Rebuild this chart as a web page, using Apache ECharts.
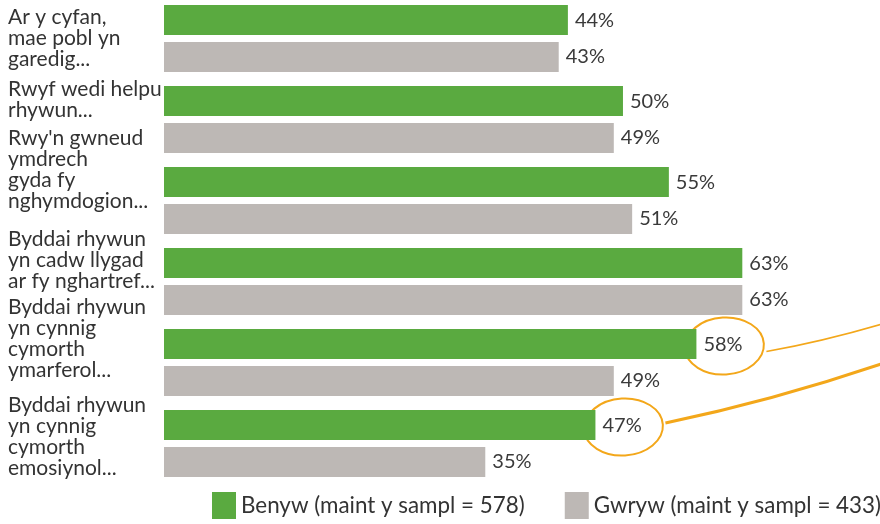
<!DOCTYPE html>
<html>
<head>
<meta charset="utf-8">
<script src="https://cdn.jsdelivr.net/npm/echarts@6/dist/echarts.min.js"></script>
<style>
  html, body { margin: 0; padding: 0; background: #fff; }
  #chart { width: 880px; height: 524px; }
</style>
</head>
<body>
<div id="chart"></div>
<script>
var categories = [
  'Ar y cyfan,\nmae pobl yn\ngaredig...',
  'Rwyf wedi helpu\nrhywun...',
  "Rwy'n gwneud\nymdrech\ngyda fy\nnghymdogion...",
  'Byddai rhywun\nyn cadw llygad\nar fy nghartref...',
  'Byddai rhywun\nyn cynnig\ncymorth\nymarferol...',
  'Byddai rhywun\nyn cynnig\ncymorth\nemosiynol...'
];
var benyw = [44, 50, 55, 63, 58, 47];
var gwryw = [43, 49, 51, 63, 49, 35];
var seriesNames = ['Benyw (maint y sampl = 578)', 'Gwryw (maint y sampl = 433)'];
// bars that get a hand-drawn circle (index into benyw)
var circled = [4, 5];

// labels in the source are not centred on their bar pair; lift each one a bit
var labelLift = [0, 20, 31, 21, 24, 7];

var GREEN = '#5aaa40';
var GREY = '#bdb8b5';
var ORANGE = '#f3a71a';
var FONT = 'Lato';

var chartDom = document.getElementById('chart');
var myChart = echarts.init(chartDom);

// an invisible spacer line under a label pushes the centred block upwards
var spacerRich = {};
labelLift.forEach(function (d, i) {
  spacerRich['sp' + i] = { height: d * 2, lineHeight: d * 2, fontSize: 1 };
});

var option = {
  animation: false,
  textStyle: { fontFamily: FONT },
  grid: { left: 164, right: 0, top: -2, height: 486, containLabel: false, outerBoundsMode: 'none' },
  xAxis: {
    type: 'value', min: 0, max: 78, show: false
  },
  yAxis: {
    type: 'category',
    inverse: true,
    data: categories,
    axisLine: { show: false },
    axisTick: { show: false },
    axisLabel: {
      interval: 0,
      showMinLabel: true,
      showMaxLabel: true,
      align: 'left',
      margin: 156,
      fontSize: 21,
      lineHeight: 20.9,
      color: '#333',
      fontFamily: FONT,
      formatter: function (value, idx) {
        return labelLift[idx] ? value + '\n{sp' + idx + '| }' : value;
      },
      rich: spacerRich
    }
  },
  legend: {
    left: 212, top: 492, width: 700, padding: 0,
    itemWidth: 24, itemHeight: 27, itemGap: 40,
    icon: 'rect',
    textStyle: { fontSize: 22.4, color: '#333', fontFamily: FONT },
    data: seriesNames
  },
  series: [
    {
      name: seriesNames[0], type: 'bar', data: benyw,
      barWidth: 30, barGap: '23%',
      itemStyle: { color: GREEN },
      label: { show: true, position: 'right', distance: 7, formatter: '{c}%', fontSize: 20, color: '#3a3a3a', fontFamily: FONT }
    },
    {
      name: seriesNames[1], type: 'bar', data: gwryw,
      barWidth: 30, barGap: '23%',
      itemStyle: { color: GREY },
      label: { show: true, position: 'right', distance: 7, formatter: '{c}%', fontSize: 20, color: '#3a3a3a', fontFamily: FONT }
    }
  ]
};
myChart.setOption(option);

// hand-drawn circles around two of the green labels, anchored to the bar layout
function barRect(idx) {
  var data = myChart.getModel().getSeriesByIndex(0).getData();
  return data.getItemLayout(idx);
}

var shapes = [];
var W = myChart.getWidth();
circled.forEach(function (idx, k) {
  var r = barRect(idx);
  var cx = r.x + r.width + 28;
  var cy = r.y + r.height / 2 + 2;
  shapes.push({
    type: 'ellipse',
    shape: { cx: cx, cy: cy, rx: 39.5, ry: 28.5 },
    rotation: 0.06, originX: cx, originY: cy,
    style: { fill: 'none', stroke: ORANGE, lineWidth: 2 },
    silent: true
  });
  var x0 = cx + 42, y0 = k === 0 ? cy + 5.5 : cy - 4;
  var slope = k === 0 ? -0.24 : -0.275;
  var x1 = W + 5, y1 = y0 + (x1 - x0) * slope;
  shapes.push({
    type: 'bezierCurve',
    shape: {
      x1: x0, y1: y0, x2: x1, y2: y1,
      cpx1: x0 + (x1 - x0) * 0.5, cpy1: y0 + (y1 - y0) * 0.38
    },
    style: { fill: 'none', stroke: ORANGE, lineWidth: k === 0 ? 1.6 : 3 },
    silent: true
  });
});
myChart.setOption({ graphic: shapes });
</script>
</body>
</html>
